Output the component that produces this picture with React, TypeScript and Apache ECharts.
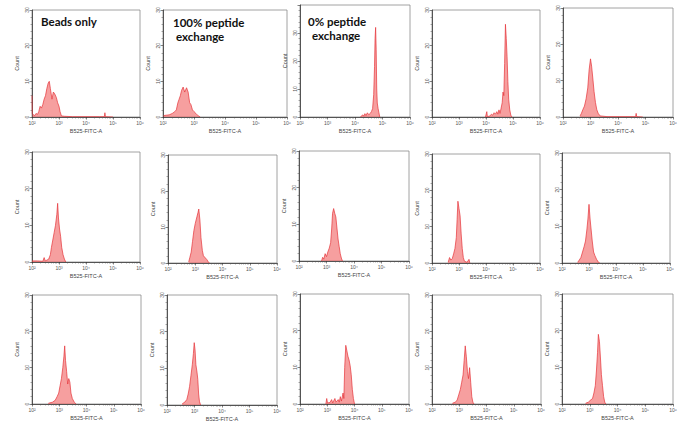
import React, { useEffect, useRef } from "react";
import * as echarts from "echarts";

// ---- Data: histograms as [log10(B525-FITC-A), count] ----
const beadsOnly = [[2.0,6],[2.01,1],[2.05,0.6],[2.1,0.4],[2.15,1],[2.2,0.7],[2.25,1.5],[2.3,3],[2.35,2.5],[2.4,3.5],[2.45,5],[2.5,6],[2.55,8],[2.6,9.5],[2.64,10],[2.68,8],[2.74,5],[2.79,7],[2.84,6.5],[2.9,5.5],[2.95,4],[3.0,3],[3.04,1.5],[3.09,0.3],[3.2,0.2],[3.5,0.1],[4.0,0.1],[4.5,0.1],[4.68,0.1],[4.7,1.2],[4.72,0.1],[5.0,0]];
const peptide100 = [[2.02,0.4],[2.1,0.5],[2.2,0.6],[2.3,1],[2.38,1.5],[2.43,2],[2.48,4],[2.52,5],[2.56,6],[2.6,7.5],[2.65,8.4],[2.7,7],[2.76,8.2],[2.81,7],[2.86,4],[2.9,3.5],[2.95,2],[3.0,1.5],[3.06,1],[3.14,0.3],[3.2,0]];
const peptide0 = [[4.2,0],[4.28,0.8],[4.32,0.3],[4.36,1.2],[4.4,0.5],[4.45,1.5],[4.5,0.8],[4.55,1.2],[4.6,2],[4.64,3],[4.68,8],[4.71,18],[4.73,28],[4.75,32],[4.77,24],[4.79,10],[4.81,5],[4.84,3],[4.87,1.5],[4.9,0]];
const r1c4 = [[3.98,0],[4.03,1.5],[4.05,0.1],[4.15,0.3],[4.2,0.8],[4.25,0.5],[4.3,1.2],[4.35,0.8],[4.4,1.5],[4.44,0.8],[4.48,2],[4.52,1],[4.56,2.5],[4.6,4],[4.63,7],[4.66,6],[4.69,15],[4.72,26],[4.75,22],[4.78,17],[4.81,10],[4.84,5],[4.88,2],[4.92,0.5],[4.96,0]];
const r1c5 = [[2.62,0.3],[2.67,1],[2.72,2],[2.78,3],[2.84,5],[2.9,8],[2.95,13],[3.0,16],[3.04,14],[3.08,11],[3.13,7],[3.18,4],[3.23,2],[3.28,1],[3.35,0.3],[3.6,0.1],[4.0,0.1],[4.4,0.1],[4.64,0.1],[4.66,1],[4.68,0.1],[4.9,0]];
const r2c1 = [[2.0,0.3],[2.2,0.3],[2.4,0.2],[2.45,1.2],[2.49,0.3],[2.55,0.5],[2.62,0.8],[2.68,2],[2.72,4],[2.77,6],[2.82,8],[2.87,10],[2.92,13],[2.95,16],[2.98,12],[3.02,9],[3.06,7],[3.1,4],[3.15,2],[3.2,0.8],[3.25,0]];
const r2c2 = [[2.76,0.3],[2.8,1.5],[2.85,3],[2.9,6],[2.95,9],[3.0,11],[3.05,12.5],[3.1,14],[3.13,15],[3.17,12],[3.21,7],[3.26,3.5],[3.3,2],[3.36,1.5],[3.42,1],[3.48,0.3],[3.52,0]];
const r2c3 = [[2.82,0],[2.86,1],[2.9,0.5],[2.95,2],[3.0,1.2],[3.05,2.5],[3.1,3.5],[3.15,5],[3.19,9],[3.22,13],[3.26,14.3],[3.3,13],[3.34,12],[3.38,9],[3.42,6],[3.46,4],[3.5,2],[3.54,0.8],[3.58,0]];
const r2c4 = [[2.6,0.2],[2.65,1.5],[2.7,0.8],[2.75,1.2],[2.8,2.5],[2.85,4],[2.9,7],[2.93,12],[2.96,17],[3.0,15],[3.04,13],[3.08,8],[3.12,4],[3.16,1.5],[3.2,0.5],[3.3,0.2],[3.37,1],[3.4,0]];
const r2c5 = [[2.58,0.2],[2.64,0.8],[2.7,1.5],[2.76,3],[2.82,4.5],[2.87,6],[2.92,9],[2.96,12],[3.0,16],[3.04,12],[3.08,9],[3.12,6],[3.17,3],[3.22,2],[3.28,1],[3.35,0.2],[3.4,0]];
const r3c1 = [[2.6,0.2],[2.75,0.5],[2.85,1],[2.92,2],[2.98,3],[3.03,5],[3.08,7],[3.13,10],[3.17,13],[3.2,16],[3.23,12],[3.27,9],[3.31,5.5],[3.35,7],[3.39,6],[3.43,3],[3.48,1.5],[3.55,0.5],[3.62,0]];
const r3c2 = [[2.55,0.3],[2.65,0.8],[2.72,1.5],[2.77,3],[2.82,5],[2.87,8],[2.92,11],[2.96,14],[2.99,17],[3.02,15],[3.05,11],[3.09,9],[3.12,7],[3.15,3],[3.18,1],[3.22,0]];
const r3c3 = [[2.95,0],[2.98,1.5],[3.01,0.3],[3.1,0.4],[3.16,1.2],[3.2,0.3],[3.28,1.5],[3.32,0.5],[3.4,1.2],[3.44,0.5],[3.48,2],[3.52,0.8],[3.58,3],[3.61,1.5],[3.64,10],[3.68,16],[3.72,14.5],[3.76,13],[3.8,12],[3.84,10.5],[3.88,8],[3.92,4],[3.96,1.5],[4.0,0]];
const r3c4 = [[2.75,0.2],[2.85,0.5],[2.92,1],[2.98,2.5],[3.04,4],[3.09,6],[3.14,8],[3.18,12],[3.22,16],[3.26,13],[3.3,9],[3.34,7],[3.38,10],[3.42,6],[3.46,2],[3.5,0.5],[3.54,0]];
const r3c5 = [[2.85,0.2],[2.95,0.5],[3.02,1],[3.1,1.5],[3.15,3],[3.2,5],[3.24,9],[3.28,14],[3.31,19],[3.35,17],[3.39,12],[3.42,8],[3.46,5],[3.5,2],[3.54,0.5],[3.58,0]];

const panelData = [beadsOnly, peptide100, peptide0, r1c4, r1c5, r2c1, r2c2, r2c3, r2c4, r2c5, r3c1, r3c2, r3c3, r3c4, r3c5];
const panelYMax = [30, 30, 40, 30, 30, 30, 30, 30, 30, 30, 30, 30, 30, 30, 30];

const xDecades = [2, 3, 4, 5, 6];
const superscripts: Record<number, string> = { 2: "²", 3: "³", 4: "⁴", 5: "⁵", 6: "⁶" };
const xAxisTitle = "B525-FITC-A";
const yAxisTitle = "Count";

// ---- Layout (pixels): [left, top, width, height] ----
const layout = [
  [32, 10, 108, 107], [163, 10, 124, 107], [300, 5, 110, 112], [432, 10, 108, 107], [563, 8, 110, 109],
  [32, 152, 108, 110], [168, 155, 109, 108], [299, 151, 110, 110], [432, 154, 108, 109], [562, 153, 108, 110],
  [32, 295, 109, 109], [167, 295, 110, 110], [300, 294, 109, 110], [432, 295, 109, 109], [562, 294, 111, 110],
];

const minorX: number[] = [];
for (let n = 2; n < 6; n++) for (let k = 2; k <= 9; k++) minorX.push(n + Math.log10(k));

const axisFont = "'Liberation Sans', Arial, sans-serif";
const labelFont = "Lato, 'Open Sans', sans-serif";

export default function App() {
  const ref = useRef<HTMLDivElement>(null);
  useEffect(() => {
    if (!ref.current) return;
    const chart = echarts.init(ref.current, undefined, { renderer: "svg" });
    const grids: any[] = [];
    const xAxes: any[] = [];
    const yAxes: any[] = [];
    const series: any[] = [];
    panelData.forEach((data, i) => {
      const [l, t, w, h] = layout[i];
      grids.push({ left: l, top: t, width: w, height: h, show: true, borderColor: "#8a8a8a", borderWidth: 0.8, containLabel: false });
      xAxes.push({
        gridIndex: i, type: "value", min: xDecades[0], max: xDecades[xDecades.length - 1], interval: 1, position: "bottom",
        axisLine: { show: true, lineStyle: { color: "#333", width: 0.8 } },
        axisTick: { show: true, length: 2.5, lineStyle: { color: "#333", width: 0.6 } },
        axisLabel: { fontSize: 5, color: "#555", margin: 3.5, fontFamily: axisFont, formatter: (v: number) => "10" + (superscripts[v] || "") },
        splitLine: { show: false },
        name: xAxisTitle, nameLocation: "middle", nameGap: 11,
        nameTextStyle: { fontSize: 5.5, color: "#444", fontFamily: axisFont },
      });
      xAxes.push({
        gridIndex: i, type: "value", min: xDecades[0], max: xDecades[xDecades.length - 1], position: "bottom",
        axisLine: { show: false }, axisLabel: { show: false }, splitLine: { show: false },
        axisTick: { show: true, length: 1.5, customValues: minorX, lineStyle: { color: "#555", width: 0.5 } },
      });
      yAxes.push({
        gridIndex: i, type: "value", min: 0, max: panelYMax[i], interval: 10,
        axisLine: { show: true, lineStyle: { color: "#333", width: 0.8 } },
        axisTick: { show: true, length: 2.5, lineStyle: { color: "#333", width: 0.6 } },
        minorTick: { show: true, splitNumber: 5, length: 1.5, lineStyle: { color: "#555", width: 0.5 } },
        axisLabel: { fontSize: 5, color: "#555", rotate: 90, margin: 3, fontFamily: axisFont, showMaxLabel: panelYMax[i] === 30 },
        splitLine: { show: false }, minorSplitLine: { show: false },
        name: yAxisTitle, nameLocation: "middle", nameGap: 12, nameRotate: 90,
        nameTextStyle: { fontSize: 5.5, color: "#444", fontFamily: axisFont },
      });
      series.push({
        type: "line", xAxisIndex: 2 * i, yAxisIndex: i, data, symbol: "none", silent: true,
        lineStyle: { color: "#e5343a", width: 0.7 },
        areaStyle: { color: "rgba(238,78,78,0.78)" },
      });
    });
    const textStyle = (text: string) => ({ text, font: `bold 11.5px ${labelFont}`, fill: "#111", verticalAlign: "middle", align: "left" });
    chart.setOption({
      animation: false,
      backgroundColor: "#fff",
      grid: grids,
      xAxis: xAxes,
      yAxis: yAxes,
      series,
      graphic: [
        { type: "text", x: 41, y: 21, style: textStyle("Beads only") },
        { type: "text", x: 173, y: 22, style: textStyle("100% peptide") },
        { type: "text", x: 176, y: 36, style: textStyle("exchange") },
        { type: "text", x: 308, y: 21, style: textStyle("0% peptide") },
        { type: "text", x: 312, y: 35, style: textStyle("exchange") },
      ],
    });
    return () => chart.dispose();
  }, []);
  return <div ref={ref} style={{ position: "absolute", left: 0, top: 0, width: 687, height: 430 }} />;
}
